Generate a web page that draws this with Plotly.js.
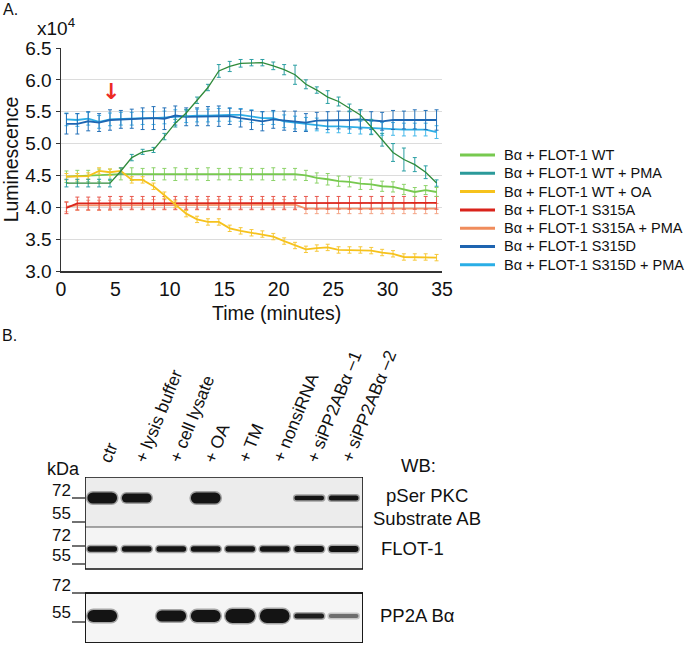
<!DOCTYPE html>
<html><head><meta charset="utf-8">
<script src="https://cdn.plot.ly/plotly-3.0.1.min.js"></script>
<style>
html,body{margin:0;padding:0;background:#fff;}
#chart{width:693px;height:646px;}
.subplot.x2y2 .js-line{stroke-linecap:round;}
</style></head><body><div id="chart"></div>
<script>
// ---------- Panel A data (luminescence, x10^4) ----------
const timeMin = [0.5,1.5,2.5,3.5,4.5,5.5,6.5,7.5,8.5,9.5,10.5,11.5,12.5,13.5,14.5,15.5,16.5,17.5,18.5,19.5,20.5,21.5,22.5,23.5,24.5,25.5,26.5,27.5,28.5,29.5,30.5,31.5,32.5,33.5,34.5];
const seriesNames = ["B\u03b1 + FLOT-1 WT","B\u03b1 + FLOT-1 WT + PMA","B\u03b1 + FLOT-1 WT + OA","B\u03b1 + FLOT-1 S315A","B\u03b1 + FLOT-1 S315A + PMA","B\u03b1 + FLOT-1 S315D","B\u03b1 + FLOT-1 S315D + PMA"];
const wt      = [4.48,4.49,4.49,4.50,4.51,4.52,4.52,4.52,4.52,4.52,4.52,4.52,4.52,4.52,4.52,4.52,4.52,4.52,4.52,4.52,4.52,4.52,4.50,4.46,4.44,4.41,4.40,4.37,4.36,4.33,4.32,4.28,4.24,4.27,4.24];
const wtPMA   = [4.38,4.38,4.38,4.38,4.38,4.57,4.78,4.87,4.90,5.11,5.32,5.48,5.68,5.88,6.14,6.21,6.26,6.27,6.27,6.22,6.16,6.08,5.93,5.84,5.73,5.66,5.56,5.45,5.26,5.06,4.86,4.75,4.67,4.55,4.38];
const wtOA    = [4.48,4.48,4.49,4.57,4.55,4.57,4.43,4.43,4.33,4.19,4.05,3.90,3.81,3.77,3.77,3.67,3.63,3.60,3.58,3.54,3.47,3.40,3.34,3.36,3.37,3.33,3.33,3.33,3.32,3.29,3.27,3.22,3.22,3.22,3.21];
const s315A   = [3.99,4.06,4.06,4.06,4.07,4.07,4.07,4.07,4.07,4.07,4.07,4.07,4.07,4.07,4.07,4.07,4.07,4.07,4.07,4.07,4.07,4.07,4.07,4.07,4.07,4.07,4.07,4.07,4.07,4.07,4.07,4.07,4.07,4.07,4.07];
const s315APMA= [4.01,4.03,4.03,4.03,4.03,4.04,4.04,4.04,4.04,4.04,4.04,4.04,4.04,4.04,4.04,4.04,4.04,4.04,4.04,4.04,4.04,4.04,3.98,3.98,3.98,3.98,3.98,3.98,3.98,3.98,3.98,3.98,3.98,3.98,3.98];
const s315D   = [5.31,5.31,5.35,5.33,5.37,5.38,5.39,5.39,5.40,5.39,5.44,5.42,5.42,5.43,5.43,5.43,5.40,5.37,5.35,5.38,5.36,5.35,5.33,5.36,5.36,5.37,5.37,5.38,5.36,5.35,5.37,5.37,5.38,5.37,5.37];
const s315DPMA= [5.38,5.37,5.39,5.34,5.38,5.39,5.39,5.40,5.40,5.41,5.43,5.43,5.44,5.44,5.45,5.45,5.45,5.43,5.40,5.40,5.35,5.33,5.31,5.30,5.27,5.27,5.26,5.25,5.25,5.23,5.23,5.22,5.22,5.22,5.18];
// error bars
const errWT      = [0.09,0.09,0.09,0.10,0.09,0.09,0.10,0.09,0.10,0.09,0.10,0.09,0.09,0.10,0.09,0.09,0.10,0.09,0.09,0.10,0.09,0.09,0.08,0.08,0.09,0.08,0.08,0.09,0.08,0.08,0.08,0.08,0.07,0.07,0.07];
const errWTPMA   = [0.06,0.06,0.06,0.06,0.06,0.05,0.05,0.04,0.04,0.05,0.06,0.05,0.05,0.05,0.10,0.08,0.06,0.05,0.05,0.06,0.08,0.15,0.07,0.05,0.10,0.07,0.06,0.08,0.12,0.10,0.14,0.18,0.11,0.10,0.05];
const errOA      = [0.05,0.05,0.05,0.05,0.05,0.05,0.05,0.05,0.05,0.05,0.05,0.05,0.05,0.05,0.05,0.05,0.05,0.05,0.05,0.05,0.05,0.05,0.05,0.05,0.05,0.05,0.05,0.05,0.05,0.05,0.05,0.05,0.05,0.05,0.05];
const errS315A   = [0.09,0.10,0.10,0.10,0.10,0.10,0.10,0.10,0.10,0.10,0.10,0.10,0.10,0.10,0.10,0.10,0.10,0.10,0.10,0.10,0.10,0.10,0.10,0.10,0.10,0.10,0.10,0.10,0.10,0.10,0.10,0.10,0.10,0.10,0.10];
const errS315APMA= [0.08,0.08,0.08,0.08,0.08,0.08,0.08,0.08,0.08,0.08,0.08,0.08,0.08,0.08,0.08,0.08,0.08,0.08,0.08,0.08,0.08,0.08,0.08,0.08,0.08,0.08,0.08,0.08,0.08,0.08,0.08,0.08,0.08,0.08,0.08];
const errS315D   = [0.16,0.16,0.15,0.14,0.16,0.14,0.15,0.17,0.18,0.17,0.15,0.14,0.14,0.15,0.16,0.13,0.14,0.15,0.15,0.14,0.15,0.16,0.14,0.13,0.14,0.14,0.14,0.15,0.14,0.14,0.15,0.14,0.15,0.15,0.16];
const errS315DPMA= [0.10,0.10,0.10,0.10,0.10,0.10,0.10,0.10,0.10,0.10,0.10,0.10,0.10,0.10,0.10,0.10,0.10,0.10,0.10,0.10,0.10,0.10,0.10,0.10,0.10,0.10,0.10,0.10,0.10,0.10,0.10,0.10,0.10,0.10,0.10];
const xTicks = [0,5,10,15,20,25,30,35];
const yTicks = [3.0,3.5,4.0,4.5,5.0,5.5,6.0,6.5];

// ---------- Panel B data (western blot) ----------
const laneLabels = ["ctr","+ lysis buffer","+ cell lysate","+ OA","+ TM","+ nonsiRNA","+ siPP2AB\u03b1 \u20131","+ siPP2AB\u03b1 \u20132"];
const pSerBand = [11, 9, 0, 11, 0, 0, 4.5, 5];     // band strength
const flotBand = [5.5, 5.5, 5.5, 5.5, 5.5, 5.5, 6, 6];
const pp2aBand = [12, 0, 11, 12, 14, 14, 5, 4];
const pp2aTone = [1, 0, 1, 1, 1, 1, 0.95, 0.55];
const kDaMarkers = ["72","55"];
const wbLabels = ["WB:","pSer PKC","Substrate AB","FLOT-1","PP2A B\u03b1"];

// ---------- helpers ----------
const W = 693, H = 646;
const px = x => x / W;
const py = y => 1 - y / H;
const FONT = "Liberation Sans, Arial, sans-serif";

const lineColors = ["#77c94f","#2f8a3a","#f6c21c","#db251c","#f2946a","#1e66b2","#2eaee6"];
const legendColors = ["#77c94f","#2b9a9a","#f6c21c","#d9231b","#f08c5c","#1e64b0","#2aaee6"];
const barColors = ["#8dd36a","#2b9fa3","#f6c83a","#e8584e","#f4a384","#2471b8","#45b9ea"];
const lineWidths = [1.8,1.3,1.8,1.8,1.8,1.8,1.8];
const ys = [wt, wtPMA, wtOA, s315A, s315APMA, s315D, s315DPMA];
const errs = [errWT, errWTPMA, errOA, errS315A, errS315APMA, errS315D, errS315DPMA];
const drawOrder = [4,3,0,2,6,5,1];

const traces = [];
drawOrder.forEach(k => {
  traces.push({
    x: timeMin, y: ys[k], type: "scatter", mode: "lines", name: seriesNames[k],
    line: {color: lineColors[k], width: lineWidths[k]},
    error_y: {type: "data", array: errs[k], visible: true, color: barColors[k], thickness: 1, width: 2},
    showlegend: false, hoverinfo: "skip"
  });
});

// blot bands
function addBands(strength, yc, toneArr) {
  strength.forEach((s, i) => {
    if (s <= 0) return;
    const tone = toneArr ? toneArr[i] : 1;
    const g = Math.round(20 + (1 - tone) * 200);
    const hw = 0.43 - s / 2 / 34.5;
    traces.push({
      x: [i - hw, i + hw], y: [yc, yc], xaxis: "x2", yaxis: "y2", type: "scatter", mode: "lines",
      line: {color: `rgba(${g},${g},${g},0.35)`, width: s + 3}, showlegend: false, hoverinfo: "skip"
    });
    traces.push({
      x: [i - hw, i + hw], y: [yc, yc], xaxis: "x2", yaxis: "y2", type: "scatter", mode: "lines",
      line: {color: `rgb(${g},${g},${g})`, width: s}, showlegend: false, hoverinfo: "skip"
    });
  });
}
addBands(pSerBand, 21, null);
addBands(flotBand, 72, null);
addBands(pp2aBand, 139, pp2aTone);

// ---------- annotations ----------
const ann = [];
const shapes = [];
ann.push({xref:"paper", yref:"paper", x:px(1), y:py(9), xanchor:"left", yanchor:"middle", text:"A.", showarrow:false, font:{family:FONT, size:16, color:"#111"}});
ann.push({xref:"paper", yref:"paper", x:px(35), y:py(27), xanchor:"left", yanchor:"middle", text:"x10<sup>4</sup>", showarrow:false, font:{family:FONT, size:19, color:"#111"}});
ann.push({xref:"paper", yref:"paper", x:px(276), y:py(313), xanchor:"center", yanchor:"middle", text:"Time (minutes)", showarrow:false, font:{family:FONT, size:19.5, color:"#111"}});
// red arrow (PMA / OA addition)
ann.push({xref:"x", yref:"paper", x:4.6, y:py(92), xanchor:"center", yanchor:"middle", text:"<b>\u2193</b>", showarrow:false, font:{family:"DejaVu Sans", size:22, color:"#ec2a24"}});

// custom legend (rows 18.3 px apart)
seriesNames.forEach((n, k) => {
  const yy = 155 + 18.3 * k;
  shapes.push({type:"line", xref:"paper", yref:"paper", x0:px(460), x1:px(495), y0:py(yy), y1:py(yy), line:{color:legendColors[k], width:3}});
  ann.push({xref:"paper", yref:"paper", x:px(502), y:py(yy), xanchor:"left", yanchor:"middle", text:n, showarrow:false, font:{family:FONT, size:14.5, color:"#111"}});
});

ann.push({xref:"paper", yref:"paper", x:px(0), y:py(335), xanchor:"left", yanchor:"middle", text:"B.", showarrow:false, font:{family:FONT, size:16, color:"#111"}});
ann.push({xref:"paper", yref:"paper", x:px(63), y:py(469), xanchor:"center", yanchor:"middle", text:"kDa", showarrow:false, font:{family:FONT, size:18, color:"#111"}});
// marker labels
const markerRows = [[490,498,513,522],[535,546,555,564],[585,593,612,622]];
markerRows.forEach(r => {
  [0,1].forEach(j => {
    ann.push({xref:"paper", yref:"paper", x:px(73), y:py(r[j*2]), xanchor:"right", yanchor:"middle", text:kDaMarkers[j], showarrow:false, font:{family:FONT, size:17, color:"#111"}});
    shapes.push({type:"line", xref:"paper", yref:"paper", x0:px(72), x1:px(85), y0:py(r[j*2+1]), y1:py(r[j*2+1]), line:{color:"#111", width:1.2}});
  });
});
// lane labels
laneLabels.forEach((t, i) => {
  ann.push({xref:"x2", yref:"paper", x:i - 0.25, y:py(468), xanchor:"left", yanchor:"bottom", textangle:-68, text:t, showarrow:false, font:{family:FONT, size:17.5, color:"#111"}});
});
// WB labels
const wbPos = [[418,465],[427,495],[427,518],[413,548],[417,615]];
wbLabels.forEach((t, i) => {
  ann.push({xref:"paper", yref:"paper", x:px(wbPos[i][0]), y:py(wbPos[i][1]), xanchor:"center", yanchor:"middle", text:t, showarrow:false, font:{family:FONT, size:18.5, color:"#111"}});
});

// blot frames
shapes.push({type:"rect", xref:"x2", yref:"y2", x0:-0.5, x1:7.56, y0:0, y1:50, fillcolor:"#ececec", line:{width:0}, layer:"below"});
shapes.push({type:"rect", xref:"x2", yref:"y2", x0:-0.5, x1:7.56, y0:50, y1:92, fillcolor:"#f4f4f4", line:{width:0}, layer:"below"});
shapes.push({type:"line", xref:"x2", yref:"y2", x0:-0.5, x1:7.56, y0:50, y1:50, line:{color:"#555", width:1}});
shapes.push({type:"rect", xref:"x2", yref:"y2", x0:-0.5, x1:7.56, y0:0, y1:92, line:{color:"#111", width:1.6}});
shapes.push({type:"rect", xref:"x2", yref:"y2", x0:-0.5, x1:7.56, y0:116, y1:166, fillcolor:"#f5f5f5", line:{color:"#111", width:1.6}, layer:"below"});
shapes.push({type:"rect", xref:"x2", yref:"y2", x0:-0.5, x1:7.56, y0:116, y1:166, line:{color:"#111", width:1.6}});

const layout = {
  width: W, height: H,
  margin: {l:0, r:0, t:0, b:0},
  paper_bgcolor: "#fff", plot_bgcolor: "#fff",
  font: {family: FONT, color: "#111"},
  showlegend: false,
  xaxis: {domain:[px(61), px(442)], range:[0,35], tickvals:xTicks, ticktext:xTicks.map(String), showgrid:false, zeroline:false,
          showline:true, linecolor:"#333", linewidth:1.5, ticks:"", ticklabelstandoff:0, tickfont:{family:FONT, size:19.5, color:"#111"}, fixedrange:true},
  yaxis: {domain:[py(271), py(48)], range:[3,6.5], tickvals:yTicks, ticktext:yTicks.map(v=>v.toFixed(1)), showgrid:true, gridcolor:"#dcdcdc", gridwidth:1,
          zeroline:false, showline:true, linecolor:"#333", linewidth:1.5, ticks:"outside", ticklen:4, tickcolor:"#333",
          tickfont:{family:FONT, size:19, color:"#111"},
          title:{text:"Luminescence", font:{family:FONT, size:19.5, color:"#111"}, standoff:6}, fixedrange:true},
  xaxis2: {domain:[px(85), px(363)], range:[-0.5,7.56], visible:false, anchor:"y2", fixedrange:true},
  yaxis2: {domain:[py(643), py(477)], range:[166,0], visible:false, anchor:"x2", fixedrange:true},
  annotations: ann,
  shapes: shapes
};

Plotly.newPlot("chart", traces, layout, {staticPlot:true, displayModeBar:false});
</script></body></html>
